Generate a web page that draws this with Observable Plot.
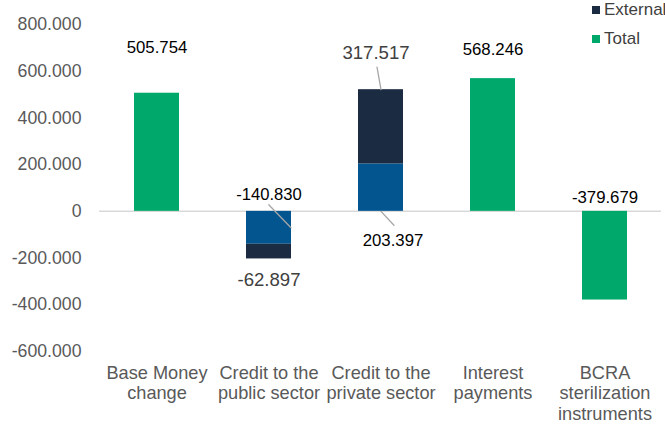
<!DOCTYPE html>
<html>
<head>
<meta charset="utf-8">
<script src="https://cdn.jsdelivr.net/npm/d3@7"></script>
<script src="https://cdn.jsdelivr.net/npm/@observablehq/plot@0.6"></script>
<style>
  body { margin: 0; background: #fff; font-family: "Liberation Sans", Arial, sans-serif; }
  #wrap { position: relative; width: 665px; height: 425px; overflow: hidden; }
  #legend { position: absolute; left: 592px; top: 0; font-size: 17px; color: #404040; line-height: 1; }
  #legend .item { display: flex; align-items: center; height: 19px; margin-bottom: 10px; white-space: nowrap; }
  #legend .sw { width: 8px; height: 8px; margin-right: 4px; flex: none; }
</style>
</head>
<body>
<div id="wrap">
  <div id="chart"></div>
  <div id="legend"></div>
</div>
<script>
// ---- data ----
const categories = [
  "Base Money\nchange",
  "Credit to the\npublic sector",
  "Credit to the\nprivate sector",
  "Interest\npayments",
  "BCRA\nsterilization\ninstruments"
];
const series = ["Domestic", "External", "Total"];
const domesticValues = [null, -140830, 203397, null, null];
const externalValues = [null, -62897, 317517, null, null];
const totalValues = [505754, null, null, 568246, -379679];
const yTicks = [-600000, -400000, -200000, 0, 200000, 400000, 600000, 800000];
const legendItems = ["External", "Total"];

const colors = {Domestic: "#03558f", External: "#1b2b42", Total: "#00a96b"};

// long table for the library
const rows = [];
categories.forEach((c, i) => {
  if (domesticValues[i] != null) rows.push({cat: c, series: "Domestic", value: domesticValues[i]});
  if (externalValues[i] != null) rows.push({cat: c, series: "External", value: externalValues[i]});
  if (totalValues[i] != null) rows.push({cat: c, series: "Total", value: totalValues[i]});
});

const loc = d3.formatLocale({decimal: ",", thousands: ".", grouping: [3], currency: ["", ""], minus: "-"});
const fmt = loc.format(",");

const find = (cat, s) => rows.filter(r => r.cat === categories[cat] && r.series === s);
const stackTop = (i) => [{cat: categories[i], value: domesticValues[i] + externalValues[i]}];

const labelFont = {fontFamily: "Liberation Sans, Arial, sans-serif"};
const spike = {draw(context, l) { context.moveTo(0, 0); context.lineTo(0, -l); }};

const chart = Plot.plot({
  width: 665,
  height: 425,
  marginLeft: 99,
  marginRight: 4,
  marginTop: 24,
  marginBottom: 74,
  style: {fontFamily: "Liberation Sans, Arial, sans-serif", color: "#595959", background: "transparent", overflow: "visible"},
  x: {domain: categories, paddingInner: 0.6, paddingOuter: 0.3, label: null},
  y: {domain: [-600000, 800000], label: null},
  color: {domain: series, range: series.map(s => colors[s])},
  marks: [
    Plot.ruleY([0], {stroke: "#d9d9d9", strokeWidth: 1.5}),
    Plot.barY(rows, {x: "cat", y: "value", fill: "series", order: series}),
    Plot.axisY({ticks: yTicks, tickFormat: fmt, tickSize: 0, tickPadding: 18, fontSize: 17.7, fill: "#595959"}),
    Plot.axisX({tickSize: 0, tickPadding: 12.5, fontSize: 18.2, lineHeight: 1.14, fill: "#595959"}),
    // leader lines
    Plot.vector(find(1, "Domestic"), {x: "cat", y: d => d.value / 2, dx: 22, length: 32, rotate: -44, shape: spike, anchor: "start", stroke: "#a6a6a6", strokeWidth: 1.3}),
    Plot.vector(find(2, "Domestic"), {x: "cat", y: 0, length: 19, rotate: 137, shape: spike, anchor: "start", stroke: "#a6a6a6", strokeWidth: 1.3}),
    Plot.vector(stackTop(2), {x: "cat", y: "value", length: 23, rotate: -10, shape: spike, anchor: "start", stroke: "#a6a6a6", strokeWidth: 1.3}),
    // value labels
    Plot.text(find(0, "Total"), {x: "cat", y: "value", text: d => fmt(d.value), dy: -46, fontSize: 16.8, fill: "#000", ...labelFont}),
    Plot.text(find(3, "Total"), {x: "cat", y: "value", text: d => fmt(d.value), dy: -29, fontSize: 16.8, fill: "#000", ...labelFont}),
    Plot.text(find(4, "Total"), {x: "cat", y: 0, text: d => fmt(d.value), dy: -14, fontSize: 16.8, fill: "#000", ...labelFont}),
    Plot.text(find(1, "Domestic"), {x: "cat", y: 0, text: d => fmt(d.value), dy: -17, fontSize: 16.6, fill: "#000", ...labelFont}),
    Plot.text(find(2, "Domestic"), {x: "cat", y: 0, text: d => fmt(d.value), dx: 12, dy: 29, fontSize: 16.8, fill: "#000", ...labelFont}),
    Plot.text(stackTop(2), {x: "cat", y: "value", text: () => fmt(externalValues[2]), dx: -5, dy: -37, fontSize: 18.6, fill: "#404040", ...labelFont}),
    Plot.text(stackTop(1), {x: "cat", y: "value", text: () => fmt(externalValues[1]), dy: 21, fontSize: 18.6, fill: "#404040", ...labelFont})
  ]
});
document.getElementById("chart").appendChild(chart);

const legend = d3.select("#legend");
legendItems.forEach(s => {
  const item = legend.append("div").attr("class", "item");
  item.append("div").attr("class", "sw").style("background", colors[s]);
  item.append("span").text(s);
});
</script>
</body>
</html>
